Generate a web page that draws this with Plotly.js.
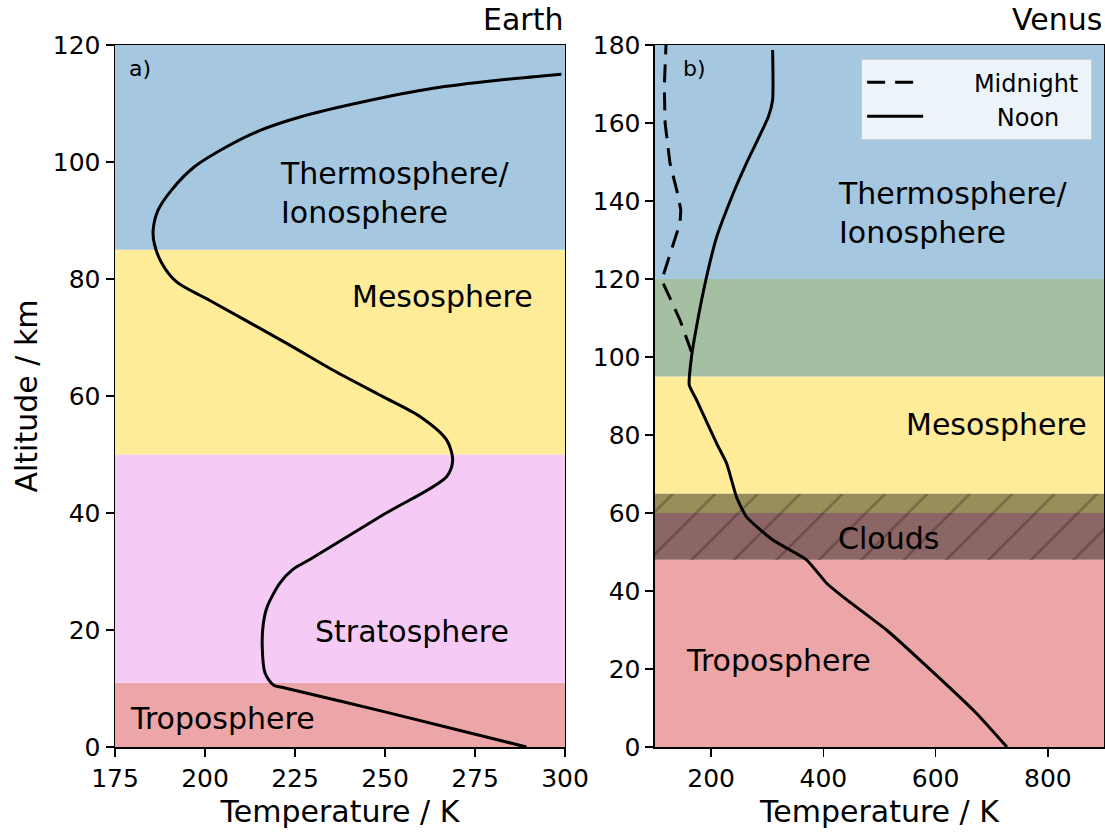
<!DOCTYPE html>
<html>
<head>
<meta charset="utf-8">
<script src="https://cdn.plot.ly/plotly-3.0.1.min.js"></script>
<style>html,body{margin:0;padding:0;background:#fff;}#chart{width:1105px;height:832px;}</style>
</head>
<body>
<div id="chart"></div>
<script>
// ---- Earth profile (panel a) ----
const earthTemp = [289.3, 250.0, 222.2, 219.0, 216.7, 215.9, 216.2, 217.3, 220.8, 224.5, 229.0, 249.5, 267.1, 268.8, 267.1, 259.7, 249.4, 235.6, 222.7, 201.1, 192.1, 188.0, 185.9, 185.6, 187.0, 190.7, 196.9, 206.0, 215.3, 226.4, 244.0, 263.4, 282.0, 299.0];
const earthAlt  = [0, 6.0, 10.1, 10.6, 12.6, 17.1, 21.1, 24.0, 28.0, 30.4, 32.0, 39.7, 46.2, 49.1, 52.5, 56.5, 59.9, 64.4, 69.0, 76.4, 79.5, 82.7, 86.1, 88.4, 91.8, 95.2, 99.1, 102.6, 105.4, 107.7, 110.3, 112.6, 114.0, 115.0];

// ---- Venus profiles (panel b) ----
const venusNoonTemp = [727, 673, 578, 512.6, 435, 405.8, 370, 310.7, 263, 245.5, 227.7, 210, 174, 161, 165, 173, 191, 210, 239.5, 263, 302, 309.6, 309.6];
const venusNoonAlt  = [0, 8.6, 21.5, 30, 38.5, 42, 48, 53, 59, 64, 72.7, 77.8, 89, 92.8, 100, 107, 120, 130.8, 142, 149.7, 161.6, 165.9, 178.7];
const venusMidTemp = [165, 144.5, 112, 118, 144.5, 146, 141.5, 126.7, 118, 116.6, 119.6];
const venusMidAlt  = [101.3, 109.5, 119.7, 122.3, 134.3, 137.7, 141.2, 149.7, 160, 169.3, 180];
const seriesNames = ["Midnight", "Noon"];

// ---- Layer bands ----
const earthBandBottom = [0, 11, 50, 85];
const earthBandTop    = [11, 50, 85, 120];
const earthBandColor  = ["#eda6a7", "#f5cbf5", "#feec98", "#a5c8e0"];
const venusBandBottom = [0, 48, 60, 65, 95, 120];
const venusBandTop    = [48, 60, 65, 95, 120, 180];
const venusBandColor  = ["#eda6a7", "#8c6565", "#978e5a", "#feec98", "#a5bfa3", "#a5c8e0"];
const cloudBottom = 48, cloudTop = 65;

// ---- Labels ----
const earthLabels = ["Thermosphere/<br>Ionosphere", "Mesosphere", "Stratosphere", "Troposphere"];
const earthLabelT = [220.3, 240.3, 230.1, 178.7];
const earthLabelAlt = [94.7, 77, 19.7, 4.9];
const venusLabels = ["Thermosphere/<br>Ionosphere", "Mesosphere", "Clouds", "Troposphere"];
const venusLabelT = [421.8, 544, 421.8, 152];
const venusLabelAlt = [136.8, 82.6, 53.5, 22.3];
const panelTitles = ["Earth", "Venus"];
const panelTags = ["a)", "b)"];
const earthXTicks = [175, 200, 225, 250, 275, 300];
const venusXTicks = [200, 400, 600, 800];

const FONT = "DejaVu Sans, Arial, sans-serif";
const NB = "\u00A0";

const shapes = [];
earthBandBottom.forEach((b, i) => shapes.push({type: "rect", layer: "below", xref: "x domain", yref: "y", x0: 0, x1: 1, y0: b, y1: earthBandTop[i], fillcolor: earthBandColor[i], line: {width: 0}}));
venusBandBottom.forEach((b, i) => shapes.push({type: "rect", layer: "below", xref: "x2 domain", yref: "y2", x0: 0, x1: 1, y0: b, y1: venusBandTop[i], fillcolor: venusBandColor[i], line: {width: 0}}));

const traces = [
  {type: "bar", orientation: "h", x: [900 - 100], base: [100], y: [(cloudBottom + cloudTop) / 2], width: [cloudTop - cloudBottom],
   xaxis: "x2", yaxis: "y2", showlegend: false, hoverinfo: "skip",
   marker: {color: "rgba(0,0,0,0)", line: {width: 0},
            pattern: {shape: "/", fgcolor: "rgba(0,0,0,0.5)", bgcolor: "rgba(0,0,0,0)", size: 30, solidity: 0.08, fillmode: "overlay"}}},
  {type: "scatter", mode: "lines", x: earthTemp, y: earthAlt, xaxis: "x", yaxis: "y", showlegend: false,
   line: {color: "black", width: 3, shape: "spline", smoothing: 0.8}},
  {type: "scatter", mode: "lines", name: NB.repeat(6) + seriesNames[0] + NB, x: venusMidTemp, y: venusMidAlt, xaxis: "x2", yaxis: "y2",
   line: {color: "black", width: 3, dash: "18px,10px"}},
  {type: "scatter", mode: "lines", name: NB.repeat(9) + seriesNames[1] + NB, x: venusNoonTemp, y: venusNoonAlt, xaxis: "x2", yaxis: "y2",
   line: {color: "black", width: 3, shape: "spline", smoothing: 0.5}}
];

const annotations = [];
const lblFont = {family: FONT, size: 30, color: "black"};
earthLabels.forEach((t, i) => annotations.push({xref: "x", yref: "y", x: earthLabelT[i], y: earthLabelAlt[i], text: t, showarrow: false, xanchor: "left", yanchor: "middle", align: "left", font: lblFont}));
venusLabels.forEach((t, i) => annotations.push({xref: "x2", yref: "y2", x: venusLabelT[i], y: venusLabelAlt[i], text: t, showarrow: false, xanchor: "left", yanchor: "middle", align: "left", font: lblFont}));
const tagX = [0.026, 0.058];
["x", "x2"].forEach((ax, i) => {
  annotations.push({xref: ax + " domain", yref: "paper", x: 1, y: 1, yshift: 6, xanchor: "right", yanchor: "bottom", text: panelTitles[i], showarrow: false, font: {family: FONT, size: 30, color: "black"}});
  annotations.push({xref: ax + " domain", yref: "paper", x: tagX[i], y: 0.987, xanchor: "left", yanchor: "top", text: panelTags[i], showarrow: false, font: {family: FONT, size: 22, color: "black"}});
});

const axisCommon = {showline: true, mirror: true, linecolor: "black", linewidth: 1.5, ticks: "outside", ticklen: 8, tickwidth: 1.5, tickcolor: "black",
  showgrid: false, zeroline: false, tickfont: {family: FONT, size: 25, color: "black"}, fixedrange: true};

const layout = {
  width: 1105, height: 832,
  margin: {l: 115, r: 1, t: 45, b: 85},
  paper_bgcolor: "white", plot_bgcolor: "white",
  font: {family: FONT, color: "black"},
  xaxis: Object.assign({}, axisCommon, {domain: [0, 0.455], range: [175, 300], tickvals: earthXTicks, anchor: "y",
    title: {text: "Temperature / K", font: {family: FONT, size: 30}, standoff: 9}}),
  yaxis: Object.assign({}, axisCommon, {domain: [0, 1], range: [0, 120], dtick: 20, anchor: "x",
    title: {text: "Altitude / km", font: {family: FONT, size: 30}, standoff: 6}}),
  xaxis2: Object.assign({}, axisCommon, {domain: [0.546, 1], range: [100, 900], tickvals: venusXTicks, anchor: "y2",
    title: {text: "Temperature / K", font: {family: FONT, size: 30}, standoff: 9}}),
  yaxis2: Object.assign({}, axisCommon, {domain: [0, 1], range: [0, 180], dtick: 20, anchor: "x2"}),
  shapes: shapes,
  annotations: annotations,
  showlegend: true,
  legend: {x: 0.988, xanchor: "right", y: 0.98, yanchor: "top", bgcolor: "rgba(255,255,255,0.8)", bordercolor: "#cccccc", borderwidth: 1,
    font: {family: FONT, size: 24, color: "black"}, itemwidth: 56, traceorder: "normal"},
  bargap: 0
};

Plotly.newPlot("chart", traces, layout, {staticPlot: true, displayModeBar: false});
</script>
</body>
</html>
